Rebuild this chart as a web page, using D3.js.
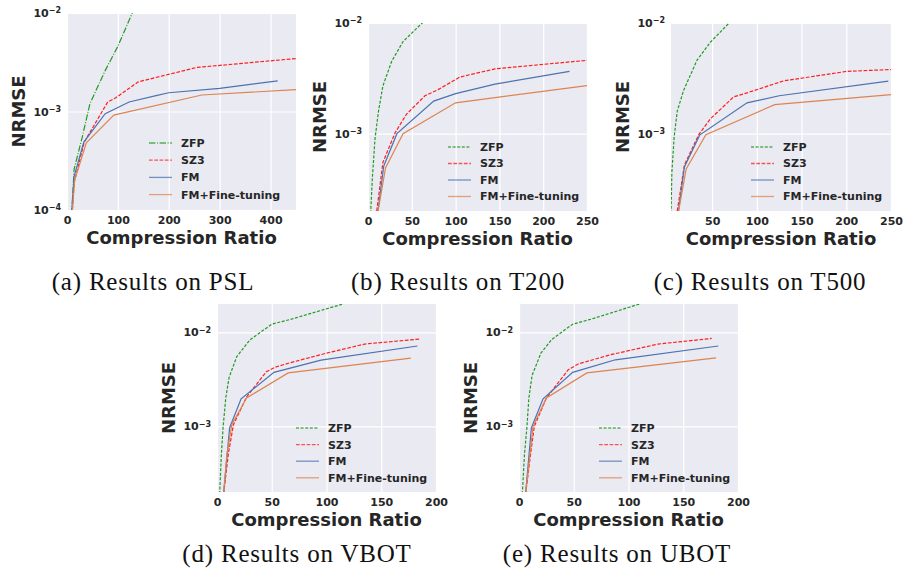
<!DOCTYPE html>
<html lang="en">
<head>
<meta charset="UTF-8">
<title>NRMSE vs Compression Ratio</title>
<script src="https://d3js.org/d3.v7.min.js"></script>
<style>
    body { margin: 0; background: #fff; }
    svg { display: block; }
    .tick text { font: bold 11px "DejaVu Sans", sans-serif; fill: #262626; }
    .axis-title { font: bold 18px "DejaVu Sans", sans-serif; fill: #262626; }
    .legend-label { font: bold 11px "DejaVu Sans", sans-serif; fill: #262626; }
    .caption { font: 25px "Liberation Serif", serif; fill: #111; letter-spacing: 0.8px; }
</style>
</head>
<body>
<script>
    // Series shown in every panel
    const seriesNames = ["ZFP", "SZ3", "FM", "FM+Fine-tuning"];

    // (a) PSL  -- [compression ratio, NRMSE]
    const pslZFP = [[9, 9e-5], [14, 2.6e-4], [30, 5.5e-4], [45, 1.2e-3], [75, 2.6e-3], [100, 4.6e-3], [130, 1.05e-2]];
    const pslSZ3 = [[10, 9e-5], [14, 1.9e-4], [34, 4.9e-4], [80, 1.25e-3], [95, 1.37e-3], [140, 2.0e-3], [255, 2.8e-3], [450, 3.45e-3]];
    const pslFM = [[9, 9e-5], [14, 2.2e-4], [33, 4.9e-4], [75, 9.5e-4], [122, 1.25e-3], [175, 1.45e-3], [200, 1.55e-3], [300, 1.72e-3], [414, 2.05e-3]];
    const pslFT = [[10, 9e-5], [15, 2.0e-4], [38, 4.8e-4], [92, 9.2e-4], [265, 1.47e-3], [450, 1.67e-3]];

    // (b) T200
    const t200ZFP = [[3, 1.9e-4], [5, 4e-4], [8, 9e-4], [12, 1.6e-3], [17, 2.7e-3], [27, 4.5e-3], [40, 6.8e-3], [63, 1.02e-2]];
    const t200SZ3 = [[10, 2e-4], [17, 5.5e-4], [31, 1.02e-3], [44, 1.5e-3], [65, 2.2e-3], [80, 2.5e-3], [105, 3.25e-3], [145, 3.85e-3], [250, 4.6e-3]];
    const t200FM = [[11, 1.9e-4], [18, 5.1e-4], [33, 1e-3], [75, 1.97e-3], [100, 2.3e-3], [145, 2.8e-3], [230, 3.65e-3]];
    const t200FT = [[11, 1.9e-4], [20, 4.9e-4], [40, 1e-3], [100, 1.9e-3], [250, 2.72e-3]];

    // (c) T500
    const t500ZFP = [[4, 1.9e-4], [5, 4.5e-4], [7.5, 9.3e-4], [11, 1.6e-3], [18, 2.45e-3], [33, 4.6e-3], [48, 6.7e-3], [70, 1.02e-2]];
    const t500SZ3 = [[11, 2e-4], [19, 5.2e-4], [35, 9.8e-4], [48, 1.36e-3], [74, 2.15e-3], [90, 2.35e-3], [130, 3e-3], [200, 3.65e-3], [250, 3.8e-3]];
    const t500FM = [[12, 1.9e-4], [19, 5e-4], [36, 9.7e-4], [89, 1.9e-3], [125, 2.2e-3], [247, 2.98e-3]];
    const t500FT = [[12, 1.9e-4], [21, 4.8e-4], [43, 9.8e-4], [120, 1.83e-3], [250, 2.25e-3]];

    // (d) VBOT
    const vbotZFP = [[2.4, 1.9e-4], [4, 5e-4], [5.5, 9.6e-4], [8, 2e-3], [11, 3.3e-3], [18, 5.5e-3], [30, 8.3e-3], [50, 1.22e-2], [67, 1.37e-2], [115, 2e-2]];
    const vbotSZ3 = [[6, 1.9e-4], [10.5, 5.2e-4], [15, 1.04e-3], [27, 2.05e-3], [45, 3.8e-3], [53, 4.25e-3], [67, 4.75e-3], [100, 6e-3], [135, 7.5e-3], [186, 8.5e-3]];
    const vbotFM = [[6, 1.9e-4], [11.5, 9.6e-4], [22, 1.96e-3], [52, 3.75e-3], [95, 5.05e-3], [183, 7.15e-3]];
    const vbotFT = [[6, 1.9e-4], [9, 5e-4], [13.5, 1.04e-3], [27, 2e-3], [65, 3.7e-3], [177, 5.3e-3]];

    // (e) UBOT
    const ubotZFP = [[3, 1.9e-4], [5, 5e-4], [7.3, 1e-3], [9, 2e-3], [12, 3.5e-3], [20, 6e-3], [30, 8.4e-3], [49, 1.22e-2], [65, 1.37e-2], [110, 2e-2]];
    const ubotSZ3 = [[6, 1.9e-4], [10.7, 5.2e-4], [14, 1e-3], [25, 2e-3], [45, 4e-3], [54, 4.6e-3], [83, 5.75e-3], [127, 7.5e-3], [176, 8.6e-3]];
    const ubotFM = [[6, 1.9e-4], [11.3, 9.6e-4], [22, 1.96e-3], [49, 3.75e-3], [88, 5.1e-3], [182, 7.15e-3]];
    const ubotFT = [[6, 1.9e-4], [12.8, 1e-3], [25, 2e-3], [62, 3.7e-3], [180, 5.35e-3]];

    // Tick values
    const xTicksPSL = [0, 100, 200, 300, 400];
    const xTicks250 = [0, 50, 100, 150, 200, 250];
    const xTicks200 = [0, 50, 100, 150, 200];
    const yTicks = [1e-4, 1e-3, 1e-2];

    const colors = ["#229a22", "#ff1f1f", "#4c72b0", "#dd8452"];

    const panels = [
        { caption: "(a) Results on PSL", data: [pslZFP, pslSZ3, pslFM, pslFT], box: [67, 296, 13, 210],
          xDomain: [0, 450], yDomain: [1e-4, 1e-2], xTicks: xTicksPSL, zfpDash: "6.4,1.6,1,1.6",
          legend: [149, 143, 17.2], capPos: [153, 290] },
        { caption: "(b) Results on T200", data: [t200ZFP, t200SZ3, t200FM, t200FT], box: [368, 587, 23, 211],
          xDomain: [0, 250], yDomain: [2e-4, 1e-2], xTicks: xTicks250, zfpDash: "3,1.6",
          legend: [448, 147, 16.5], capPos: [458, 290] },
        { caption: "(c) Results on T500", data: [t500ZFP, t500SZ3, t500FM, t500FT], box: [671, 891, 23, 211],
          xDomain: [4, 250], yDomain: [2e-4, 1e-2], xTicks: xTicks250, zfpDash: "3,1.6",
          legend: [751, 147, 16.5], capPos: [760, 290] },
        { caption: "(d) Results on VBOT", data: [vbotZFP, vbotSZ3, vbotFM, vbotFT], box: [217, 436, 304, 492],
          xDomain: [0, 200], yDomain: [2e-4, 2e-2], xTicks: xTicks200, zfpDash: "3,1.6",
          legend: [296, 428, 16.6], capPos: [297, 562] },
        { caption: "(e) Results on UBOT", data: [ubotZFP, ubotSZ3, ubotFM, ubotFT], box: [519, 738, 304, 492],
          xDomain: [0, 200], yDomain: [2e-4, 2e-2], xTicks: xTicks200, zfpDash: "3,1.6",
          legend: [599, 428, 16.6], capPos: [617, 562] }
    ];

    const svg = d3.select("body")
        .append("svg")
        .attr("width", 904)
        .attr("height", 578);

    const supers = { "-2": "\u22122", "-3": "\u22123", "-4": "\u22124" };

    panels.forEach((p, pi) => {
        const [x0, x1, y0, y1] = p.box;
        const w = x1 - x0, h = y1 - y0;

        const x = d3.scaleLinear().domain(p.xDomain).range([0, w]);
        const y = d3.scaleLog().domain(p.yDomain).range([h, 0]);
        const xt = p.xTicks.filter(t => t >= p.xDomain[0] && t <= p.xDomain[1]);
        const yt = yTicks.filter(t => t >= p.yDomain[0] * 0.999 && t <= p.yDomain[1] * 1.001);

        const g = svg.append("g").attr("transform", `translate(${x0},${y0})`);

        g.append("rect").attr("width", w).attr("height", h).attr("fill", "#eaeaf2");

        // grid
        g.append("g")
            .attr("transform", `translate(0,${h})`)
            .call(d3.axisBottom(x).tickValues(xt).tickSize(-h).tickFormat(""))
            .call(a => a.select(".domain").remove())
            .call(a => a.selectAll("line").attr("stroke", "#fff").attr("stroke-width", 1.2));
        g.append("g")
            .call(d3.axisLeft(y).tickValues(yt).tickSize(-w).tickFormat(""))
            .call(a => a.select(".domain").remove())
            .call(a => a.selectAll("line").attr("stroke", "#fff").attr("stroke-width", 1.2));

        // tick labels
        g.append("g")
            .attr("transform", `translate(0,${h})`)
            .call(d3.axisBottom(x).tickValues(xt).tickSize(0).tickPadding(6))
            .call(a => a.select(".domain").remove());
        const yAxis = g.append("g")
            .call(d3.axisLeft(y).tickValues(yt).tickSize(0).tickPadding(6).tickFormat(() => ""))
            .call(a => a.select(".domain").remove());
        yAxis.selectAll(".tick text").each(function (d) {
            const t = d3.select(this);
            const e = String(Math.round(Math.log10(d)));
            t.append("tspan").text("10");
            t.append("tspan").attr("dy", "-0.45em").attr("font-size", "8px").text(supers[e]);
        });

        // lines
        const clipId = "clip" + pi;
        g.append("clipPath").attr("id", clipId)
            .append("rect").attr("width", w).attr("height", h);
        const line = d3.line().x(d => x(d[0])).y(d => y(d[1]));
        const dashes = [p.zfpDash, "3.7,1.6", null, null];
        p.data.forEach((s, i) => {
            g.append("path")
                .datum(s)
                .attr("clip-path", `url(#${clipId})`)
                .attr("fill", "none")
                .attr("stroke", colors[i])
                .attr("stroke-width", 1.2)
                .attr("stroke-dasharray", dashes[i])
                .attr("d", line);
        });

        // legend
        const [lx, ly, ls] = p.legend;
        const leg = svg.append("g");
        seriesNames.forEach((name, i) => {
            const yy = ly + i * ls;
            leg.append("line")
                .attr("x1", lx).attr("x2", lx + 23)
                .attr("y1", yy).attr("y2", yy)
                .attr("stroke", colors[i])
                .attr("stroke-opacity", 0.75)
                .attr("stroke-width", 1.3)
                .attr("stroke-dasharray", dashes[i]);
            leg.append("text")
                .attr("class", "legend-label")
                .attr("x", lx + 32).attr("y", yy)
                .attr("dy", "0.36em")
                .text(name);
        });

        // axis titles
        svg.append("text")
            .attr("class", "axis-title")
            .attr("text-anchor", "middle")
            .attr("x", x0 + w / 2)
            .attr("y", y1 + 34)
            .text("Compression Ratio");
        svg.append("text")
            .attr("class", "axis-title")
            .attr("text-anchor", "middle")
            .attr("transform", `translate(${x0 - 42},${y0 + h / 2}) rotate(-90)`)
            .text("NRMSE");

        // caption
        svg.append("text")
            .attr("class", "caption")
            .attr("text-anchor", "middle")
            .attr("x", p.capPos[0])
            .attr("y", p.capPos[1])
            .text(p.caption);
    });
</script>
</body>
</html>
